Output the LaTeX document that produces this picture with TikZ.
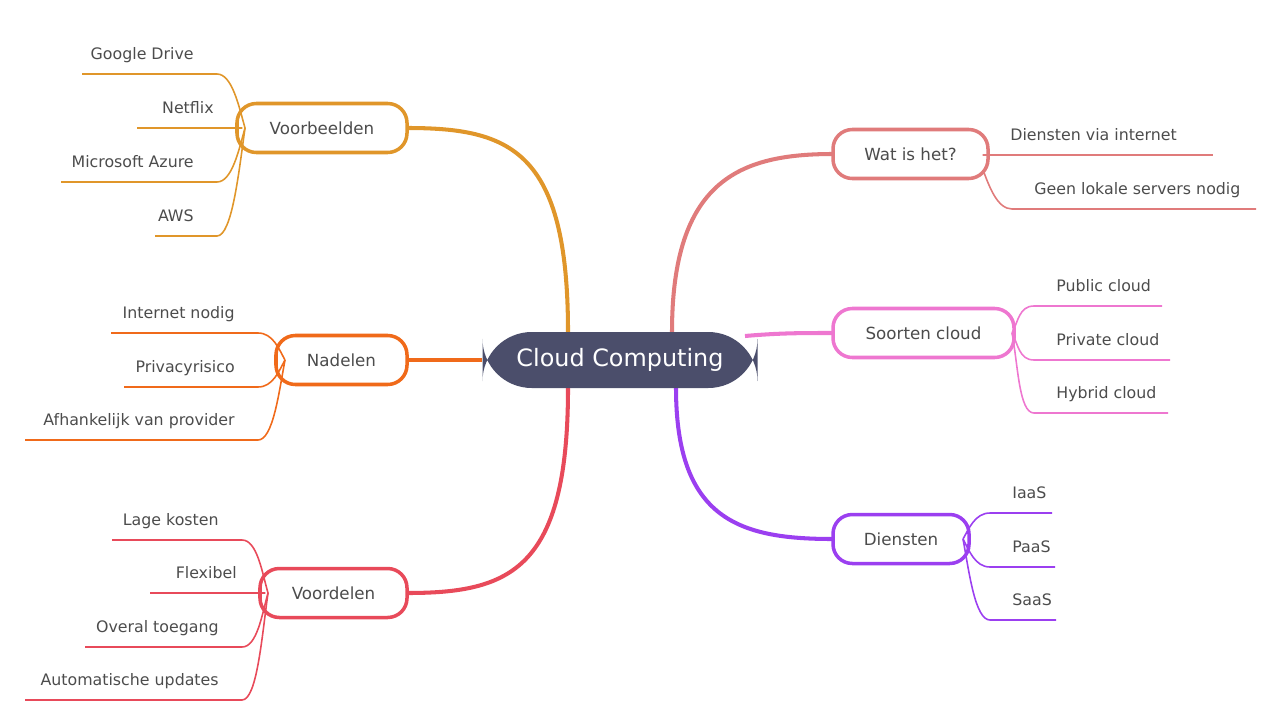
\documentclass[tikz,border=0pt]{standalone}
\usepackage{fontspec}
\setmainfont{DejaVu Sans}
\usetikzlibrary{calc}
\begin{document}
\begin{tikzpicture}[x=0.02cm,y=-0.02cm,
 br/.style={line width=2pt,draw=#1,fill=white,rounded corners=11pt,text=black!70,font=\fontsize{9.5}{11}\selectfont},
 leaf/.style={text=black!70,font=\fontsize{9}{11}\selectfont,inner sep=0pt},
 cl/.style={line width=2.3pt,draw=#1},
 ll/.style={line width=0.9pt,draw=#1}]
\definecolor{cA}{HTML}{E0962A}\definecolor{cB}{HTML}{F06A1A}\definecolor{cC}{HTML}{E84A5A}
\definecolor{cD}{HTML}{E07B7B}\definecolor{cE}{HTML}{EE77D0}\definecolor{cF}{HTML}{9B3FF0}
\definecolor{cen}{HTML}{4B4E6B}
\useasboundingbox (0,0) rectangle (1280,720);
% branches
\draw[cl=cA] (568,332) .. controls (568,150) and (510,128) .. (407,128);
\draw[cl=cB] (482,360) -- (407,360);
\draw[cl=cC] (568,388) .. controls (568,570) and (510,593) .. (407,593);
\draw[cl=cD] (672,332) .. controls (672,180) and (740,154) .. (833,154);
\draw[cl=cE] (745,336) .. controls (780,333) and (800,333) .. (833,333);
\draw[cl=cF] (676,388) .. controls (676,520) and (740,539) .. (833,539);
\node[fill=cen,rounded corners=28pt,minimum width=275*0.02cm,minimum height=56*0.02cm,text=white,font=\fontsize{13.6}{16}\selectfont] (c) at (620,360) {Cloud Computing};
\node[br=cA,minimum width=170*0.02cm,minimum height=49*0.02cm] (vb) at (322,128) {Voorbeelden};
\node[br=cB,minimum width=131*0.02cm,minimum height=49*0.02cm] (nd) at (341.5,360) {Nadelen};
\node[br=cC,minimum width=147*0.02cm,minimum height=49*0.02cm] (vd) at (333.5,593) {Voordelen};
\node[br=cD,minimum width=155*0.02cm,minimum height=49*0.02cm] (wh) at (910.5,154) {Wat is het?};
\node[br=cE,minimum width=181*0.02cm,minimum height=49*0.02cm] (sc) at (923.5,333) {Soorten cloud};
\node[br=cF,minimum width=136*0.02cm,minimum height=49*0.02cm] (di) at (901,539) {Diensten};
% left leaves
\foreach \y/\a/\b/\hx/\hy/\c/\t in {
 74/82/217/245/128/cA/Google Drive, 128/137/237/237/128/cA/Netflix, 182/61/217/245/128/cA/Microsoft Azure, 236/155/217/245/128/cA/AWS,
 333/111/258/285/360/cB/Internet nodig, 387/124/258/285/360/cB/Privacyrisico, 440/25/258/285/360/cB/Afhankelijk van provider,
 540/112/242/268/593/cC/Lage kosten, 593/150/260/260/593/cC/Flexibel, 647/85/242/268/593/cC/Overal toegang, 700/25/242/268/593/cC/Automatische updates}{
 \coordinate (s) at (\a,\y); \coordinate (e) at (\b,\y); \coordinate (h) at (\hx,\hy);
 \draw[ll=\c] (s) -- (e) .. controls ($(e)+(15,0)$) and ($(h)+(-6,{(\y-\hy)*0.4})$) .. (h);
 \node[leaf,anchor=base east] at (\b-23,\y-15) {\t};
}
% right leaves
\foreach \y/\a/\b/\hx/\hy/\c/\t in {
 155/988/1213/988/155/cD/Diensten via internet, 209/1012/1256/983/170/cD/Geen lokale servers nodig,
 306/1034/1162/1012/333/cE/Public cloud, 360/1034/1170/1012/333/cE/Private cloud, 413/1034/1168/1012/333/cE/Hybrid cloud,
 513/990/1052/963/539/cF/IaaS, 567/990/1055/963/539/cF/PaaS, 620/990/1056/963/539/cF/SaaS}{
 \coordinate (s) at (\a,\y); \coordinate (e) at (\b,\y); \coordinate (h) at (\hx,\hy);
 \draw[ll=\c] (h) .. controls ($(h)+(6,{(\y-\hy)*0.4})$) and ($(s)+(-15,0)$) .. (s) -- (e);
 \node[leaf,anchor=base west] at (\a+22,\y-15) {\t};
}
\end{tikzpicture}
\end{document}
